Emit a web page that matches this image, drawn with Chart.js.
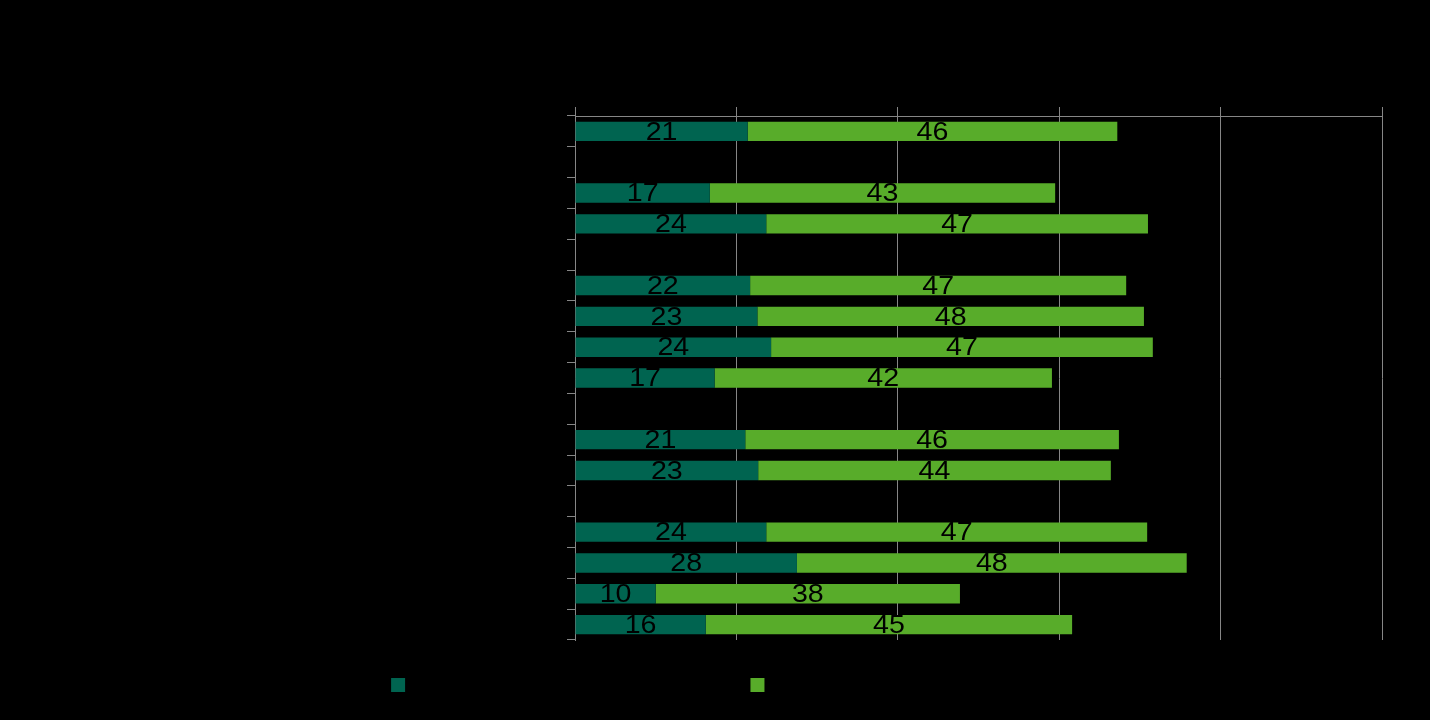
<!DOCTYPE html>
<html>
<head>
<meta charset="utf-8">
<script src="https://cdn.jsdelivr.net/npm/chart.js@4/dist/chart.umd.min.js"></script>
<style>
html,body{margin:0;padding:0;background:#000;}
#wrap{width:1430px;height:720px;position:relative;}
</style>
</head>
<body>
<div id="wrap"><canvas id="c" width="1430" height="720"></canvas></div>
<script>
const categories = ["Total", "Gender", "Men", "Women", "Age", "18–29", "30–44", "45–59", "60+", "Area", "Urban", "Rural", "Education", "Primary", "Secondary", "Vocational", "University"];
const seriesNames = ["Very satisfied with the centre (% of respondents)", "Rather satisfied (% of respondents)"];
const darkValues = [21.4, null, 16.7, 23.7, null, 21.7, 22.6, 24.3, 17.3, null, 21.1, 22.7, null, 23.7, 27.5, 10.0, 16.2];
const lightValues = [45.8, null, 42.8, 47.3, null, 46.6, 47.9, 47.3, 41.8, null, 46.3, 43.7, null, 47.2, 48.3, 37.7, 45.4];
const xTickValues = [0, 20, 40, 60, 80, 100];

const DARK = "#006450";
const LIGHT = "#58AC2A";
const GRID = "#868686";

const valueLabels = {
  id: "valueLabels",
  afterDatasetsDraw(chart) {
    const ctx = chart.ctx;
    chart.data.datasets.forEach((ds, di) => {
      const meta = chart.getDatasetMeta(di);
      meta.data.forEach((el, i) => {
        const v = ds.data[i];
        if (v === null || v === undefined) return;
        const p = el.getProps(["x", "y", "base"], true);
        ctx.save();
        ctx.font = "26px 'Liberation Sans', Arial, sans-serif";
        ctx.fillStyle = "#000";
        ctx.textAlign = "center";
        ctx.textBaseline = "middle";
        ctx.translate((p.x + p.base) / 2, p.y + 1);
        ctx.scale(1.1, 1);
        ctx.fillText(String(Math.round(v)), 0, 0);
        ctx.restore();
      });
    });
  }
};

new Chart(document.getElementById("c"), {
  type: "bar",
  data: {
    labels: categories,
    datasets: [
      { label: seriesNames[0], data: darkValues, backgroundColor: DARK, borderWidth: 0, barPercentage: 0.63, categoryPercentage: 1 },
      { label: seriesNames[1], data: lightValues, backgroundColor: LIGHT, borderWidth: 0, barPercentage: 0.63, categoryPercentage: 1 }
    ]
  },
  options: {
    indexAxis: "y",
    responsive: false,
    animation: false,
    devicePixelRatio: 1,
    layout: { padding: { left: 0, right: 48, top: 0, bottom: 18 } },
    scales: {
      x: {
        position: "top",
        stacked: true,
        min: 0,
        max: 100,
        afterBuildTicks: (s) => { s.ticks = xTickValues.map(v => ({ value: v })); },
        afterFit: (s) => { s.height = 116; },
        ticks: { color: "#000", font: { size: 14, family: "'Liberation Sans', Arial, sans-serif" } },
        grid: { color: GRID, lineWidth: 1, tickLength: 9, drawOnChartArea: true },
        border: { color: GRID, width: 1 }
      },
      y: {
        stacked: true,
        afterFit: (s) => { s.width = 575; },
        ticks: { color: "#000", font: { size: 14, family: "'Liberation Sans', Arial, sans-serif" } },
        grid: { color: GRID, lineWidth: 1, tickLength: 8, drawOnChartArea: false, offset: true },
        border: { color: GRID, width: 1 }
      }
    },
    plugins: {
      legend: {
        position: "bottom",
        labels: {
          boxWidth: 14,
          boxHeight: 14,
          padding: 38,
          color: "#000",
          font: { size: 14, family: "'Liberation Sans', Arial, sans-serif" }
        }
      },
      tooltip: { enabled: false }
    }
  },
  plugins: [valueLabels]
});
</script>
</body>
</html>
